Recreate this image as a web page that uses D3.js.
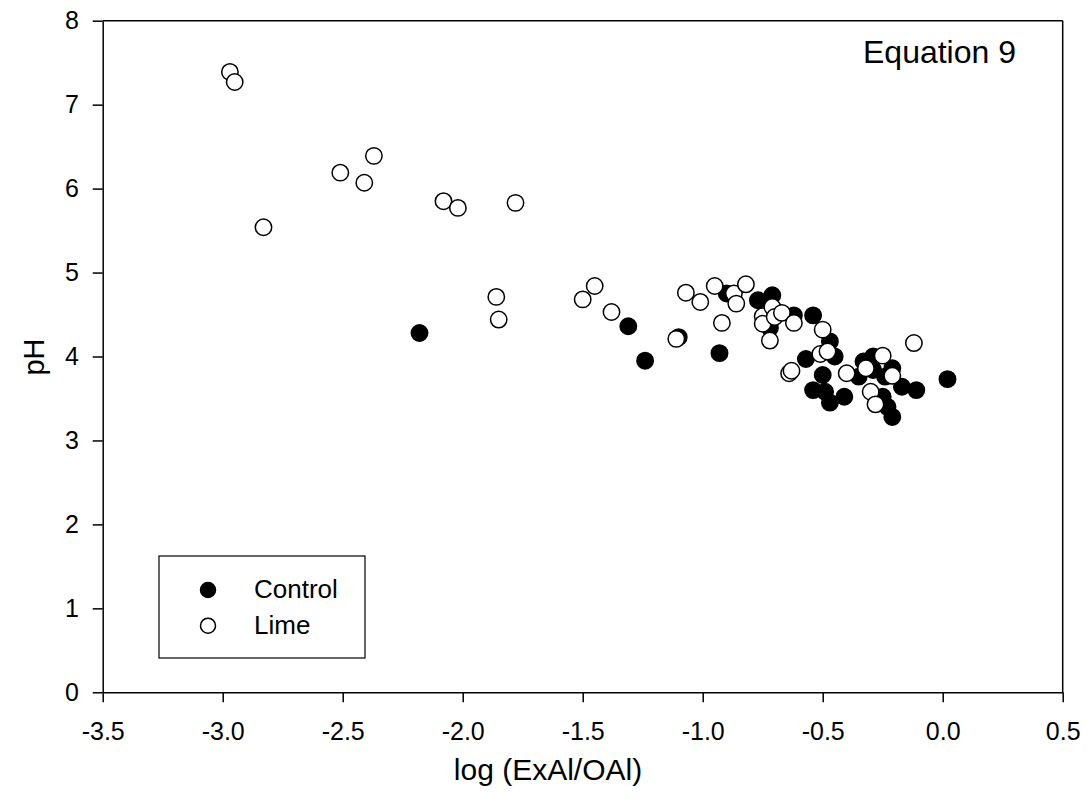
<!DOCTYPE html>
<html>
<head>
<meta charset="utf-8">
<script src="https://cdn.jsdelivr.net/npm/d3@7"></script>
<style>
  body { margin: 0; background: #fff; }
  text { font-family: "Liberation Sans", Arial, sans-serif; fill: #000; }
</style>
</head>
<body>
<div id="chart"></div>
<script>
// Data
var controlX = [-2.18, -1.31, -1.24, -1.10, -0.93, -0.90, -0.77, -0.71, -0.72, -0.62, -0.54,
                -0.47, -0.45, -0.57, -0.50, -0.54, -0.49, -0.47, -0.41, -0.35, -0.33, -0.29,
                -0.29, -0.24, -0.21, -0.17, -0.11, -0.25, -0.23, -0.21, 0.02];
var controlY = [4.28, 4.36, 3.95, 4.23, 4.04, 4.75, 4.67, 4.73, 4.34, 4.49, 4.49,
                4.18, 4.00, 3.97, 3.78, 3.60, 3.58, 3.45, 3.52, 3.76, 3.94, 4.00,
                3.84, 3.76, 3.86, 3.64, 3.60, 3.52, 3.40, 3.28, 3.73];
var limeX = [-2.97, -2.95, -2.83, -2.51, -2.41, -2.37, -2.08, -2.02, -1.78, -1.86, -1.85,
             -1.50, -1.45, -1.38, -1.11, -1.07, -1.01, -0.95, -0.92, -0.87, -0.86, -0.82,
             -0.75, -0.75, -0.71, -0.70, -0.67, -0.72, -0.62, -0.50, -0.51, -0.48, -0.64,
             -0.63, -0.40, -0.32, -0.25, -0.21, -0.30, -0.28, -0.12];
var limeY = [7.39, 7.27, 5.54, 6.19, 6.07, 6.39, 5.85, 5.77, 5.83, 4.71, 4.44,
             4.68, 4.84, 4.53, 4.21, 4.76, 4.65, 4.84, 4.40, 4.75, 4.63, 4.86,
             4.48, 4.39, 4.59, 4.47, 4.52, 4.19, 4.40, 4.32, 4.03, 4.06, 3.80,
             3.83, 3.80, 3.86, 4.01, 3.77, 3.58, 3.43, 4.16];
var xTicks = [-3.5, -3.0, -2.5, -2.0, -1.5, -1.0, -0.5, 0.0, 0.5];
var xTickLabels = ["-3.5", "-3.0", "-2.5", "-2.0", "-1.5", "-1.0", "-0.5", "0.0", "0.5"];
var yTicks = [0, 1, 2, 3, 4, 5, 6, 7, 8];

// Variables
var chart_width = 1087;
var chart_height = 810;
var plot_left = 102.7, plot_right = 1062.7, plot_top = 20.7, plot_bottom = 692.3;
var r = 8.2;

var svg = d3.select("#chart")
    .append("svg")
    .attr("width", chart_width)
    .attr("height", chart_height);

// Scales
var x_scale = d3.scaleLinear().domain([-3.5, 0.5]).range([plot_left, plot_right]);
var y_scale = d3.scaleLinear().domain([0, 8]).range([plot_bottom, plot_top]);

// Axes
var x_axis = d3.axisBottom(x_scale)
    .tickValues(xTicks)
    .tickFormat(function(d, i){ return xTickLabels[i]; })
    .tickSize(10)
    .tickSizeOuter(0)
    .tickPadding(20);
var y_axis = d3.axisLeft(y_scale)
    .tickValues(yTicks)
    .tickSize(10)
    .tickSizeOuter(0)
    .tickPadding(13.7);

var gx = svg.append("g")
    .attr("transform", "translate(0," + plot_bottom + ")")
    .call(x_axis);
var gy = svg.append("g")
    .attr("transform", "translate(" + plot_left + ",0)")
    .call(y_axis);

[gx, gy].forEach(function(g){
    g.selectAll("path, line").attr("stroke", "#000").attr("stroke-width", 1.5);
    g.selectAll("text")
        .attr("font-size", 25)
        .attr("font-family", "Liberation Sans, Arial, sans-serif")
        .attr("fill", "#000");
});

// Frame top / right
svg.append("line").attr("x1", plot_left).attr("x2", plot_right).attr("y1", plot_top).attr("y2", plot_top)
    .attr("stroke", "#000").attr("stroke-width", 1.5);
svg.append("line").attr("x1", plot_right).attr("x2", plot_right).attr("y1", plot_top).attr("y2", plot_bottom)
    .attr("stroke", "#000").attr("stroke-width", 1.5);

// Axis titles
svg.append("text")
    .attr("x", 548)
    .attr("y", 780)
    .attr("text-anchor", "middle")
    .attr("font-size", 30)
    .text("log (ExAl/OAl)");
svg.append("text")
    .attr("transform", "translate(44," + 357 + ") rotate(-90)")
    .attr("text-anchor", "middle")
    .attr("font-size", 29)
    .text("pH");

// Points
svg.append("g").selectAll("circle")
    .data(controlX)
    .enter()
    .append("circle")
    .attr("cx", function(d){ return x_scale(d); })
    .attr("cy", function(d, i){ return y_scale(controlY[i]); })
    .attr("r", r)
    .attr("fill", "#000")
    .attr("stroke", "#000")
    .attr("stroke-width", 1.5);

svg.append("g").selectAll("circle")
    .data(limeX)
    .enter()
    .append("circle")
    .attr("cx", function(d){ return x_scale(d); })
    .attr("cy", function(d, i){ return y_scale(limeY[i]); })
    .attr("r", r)
    .attr("fill", "#fff")
    .attr("stroke", "#000")
    .attr("stroke-width", 1.5);

// Annotation
svg.append("text")
    .attr("x", 1016)
    .attr("y", 63)
    .attr("text-anchor", "end")
    .attr("font-size", 32)
    .text("Equation 9");

// Legend
var legend = svg.append("g");
legend.append("rect")
    .attr("x", 159).attr("y", 556)
    .attr("width", 206).attr("height", 102)
    .attr("fill", "#fff")
    .attr("stroke", "#000")
    .attr("stroke-width", 1.2);
legend.append("circle")
    .attr("cx", 208).attr("cy", 590).attr("r", 7.5)
    .attr("fill", "#000").attr("stroke", "#000").attr("stroke-width", 1.5);
legend.append("text")
    .attr("x", 254).attr("y", 598)
    .attr("font-size", 26)
    .text("Control");
legend.append("circle")
    .attr("cx", 208).attr("cy", 625.7).attr("r", 7.5)
    .attr("fill", "#fff").attr("stroke", "#000").attr("stroke-width", 1.5);
legend.append("text")
    .attr("x", 254).attr("y", 634)
    .attr("font-size", 26)
    .text("Lime");
</script>
</body>
</html>
